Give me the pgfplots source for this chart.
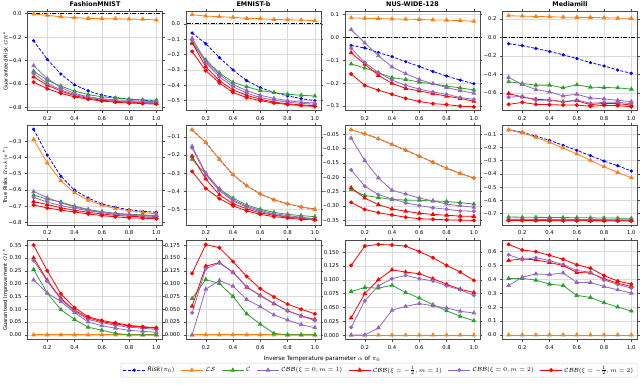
\documentclass[border=0pt]{standalone}
\usepackage{fontspec}
\setmainfont{DejaVu Sans}
\usepackage{pgfplots}
\usepackage{pgfplotstable}
\pgfplotsset{compat=1.18}

\definecolor{mplorange}{RGB}{255,127,14}
\definecolor{mplgreen}{RGB}{44,160,44}
\definecolor{mplpurple}{RGB}{148,103,189}

% guaranteed risk GR*
\pgfplotstableread{
a B LS C P1 R1 P2 R2
0.1 -0.230 -0.003 -0.490 -0.444 -0.540 -0.510 -0.584
0.2 -0.390 -0.014 -0.567 -0.553 -0.610 -0.595 -0.640
0.3 -0.515 -0.026 -0.618 -0.630 -0.660 -0.650 -0.680
0.4 -0.607 -0.034 -0.660 -0.680 -0.700 -0.690 -0.710
0.5 -0.658 -0.040 -0.690 -0.709 -0.722 -0.715 -0.730
0.6 -0.695 -0.043 -0.709 -0.726 -0.738 -0.730 -0.745
0.7 -0.715 -0.043 -0.720 -0.735 -0.748 -0.743 -0.755
0.8 -0.729 -0.046 -0.729 -0.740 -0.755 -0.750 -0.762
0.9 -0.738 -0.047 -0.735 -0.746 -0.760 -0.755 -0.767
1.0 -0.746 -0.054 -0.738 -0.752 -0.765 -0.760 -0.772
}\gra
\pgfplotstableread{
a B LS C P1 R1 P2 R2
0.1 -0.060 0.059 -0.130 -0.095 -0.125 -0.110 -0.180
0.2 -0.130 0.050 -0.235 -0.245 -0.280 -0.255 -0.305
0.3 -0.220 0.046 -0.320 -0.330 -0.370 -0.345 -0.385
0.4 -0.300 0.042 -0.380 -0.395 -0.430 -0.410 -0.447
0.5 -0.370 0.035 -0.410 -0.435 -0.465 -0.450 -0.480
0.6 -0.415 0.033 -0.434 -0.465 -0.490 -0.480 -0.500
0.7 -0.447 0.028 -0.447 -0.485 -0.510 -0.497 -0.515
0.8 -0.469 0.026 -0.458 -0.500 -0.520 -0.510 -0.525
0.9 -0.487 0.024 -0.465 -0.510 -0.528 -0.518 -0.532
1.0 -0.500 0.020 -0.470 -0.515 -0.533 -0.523 -0.538
}\grb
\pgfplotstableread{
a B LS C P1 R1 P2 R2
0.1 -0.035 0.086 -0.116 0.034 -0.067 -0.047 -0.160
0.2 -0.046 0.084 -0.134 -0.024 -0.117 -0.110 -0.210
0.3 -0.066 0.083 -0.154 -0.080 -0.166 -0.154 -0.231
0.4 -0.084 0.081 -0.176 -0.129 -0.201 -0.187 -0.249
0.5 -0.106 0.080 -0.184 -0.159 -0.223 -0.210 -0.267
0.6 -0.127 0.079 -0.196 -0.184 -0.234 -0.226 -0.280
0.7 -0.149 0.077 -0.203 -0.203 -0.246 -0.239 -0.290
0.8 -0.169 0.076 -0.213 -0.219 -0.257 -0.249 -0.294
0.9 -0.187 0.074 -0.221 -0.233 -0.267 -0.263 -0.301
1.0 -0.203 0.071 -0.230 -0.244 -0.279 -0.271 -0.304
}\grc
\pgfplotstableread{
a B LS C P1 R1 P2 R2
0.1 -0.069 0.233 -0.480 -0.433 -0.607 -0.647 -0.724
0.2 -0.090 0.229 -0.498 -0.509 -0.644 -0.636 -0.702
0.3 -0.120 0.225 -0.516 -0.564 -0.669 -0.680 -0.724
0.4 -0.153 0.222 -0.516 -0.589 -0.676 -0.680 -0.727
0.5 -0.189 0.218 -0.545 -0.633 -0.695 -0.695 -0.731
0.6 -0.229 0.215 -0.513 -0.615 -0.684 -0.676 -0.731
0.7 -0.273 0.215 -0.538 -0.655 -0.727 -0.713 -0.745
0.8 -0.309 0.211 -0.542 -0.665 -0.713 -0.702 -0.735
0.9 -0.353 0.207 -0.545 -0.680 -0.716 -0.702 -0.738
1.0 -0.389 0.204 -0.560 -0.695 -0.731 -0.716 -0.749
}\grd

% true risk
\pgfplotstableread{
a B LS C P1 R1 P2 R2
0.1 -0.227 -0.290 -0.632 -0.610 -0.672 -0.646 -0.693
0.2 -0.386 -0.434 -0.657 -0.648 -0.690 -0.675 -0.711
0.3 -0.516 -0.544 -0.675 -0.679 -0.710 -0.697 -0.724
0.4 -0.602 -0.618 -0.700 -0.705 -0.725 -0.713 -0.736
0.5 -0.650 -0.663 -0.720 -0.724 -0.738 -0.728 -0.748
0.6 -0.687 -0.693 -0.734 -0.736 -0.748 -0.740 -0.758
0.7 -0.707 -0.715 -0.744 -0.746 -0.757 -0.750 -0.766
0.8 -0.722 -0.728 -0.750 -0.752 -0.762 -0.756 -0.772
0.9 -0.732 -0.738 -0.754 -0.756 -0.766 -0.760 -0.774
1.0 -0.738 -0.748 -0.758 -0.760 -0.770 -0.764 -0.778
}\tra
\pgfplotstableread{
a B LS C P1 R1 P2 R2
0.1 -0.061 -0.061 -0.224 -0.152 -0.207 -0.161 -0.291
0.2 -0.131 -0.131 -0.306 -0.300 -0.333 -0.309 -0.385
0.3 -0.224 -0.224 -0.387 -0.389 -0.420 -0.398 -0.441
0.4 -0.309 -0.309 -0.439 -0.448 -0.469 -0.454 -0.481
0.5 -0.370 -0.370 -0.476 -0.483 -0.498 -0.489 -0.509
0.6 -0.415 -0.415 -0.500 -0.507 -0.520 -0.513 -0.528
0.7 -0.448 -0.448 -0.517 -0.524 -0.533 -0.529 -0.541
0.8 -0.470 -0.470 -0.528 -0.535 -0.543 -0.541 -0.548
0.9 -0.487 -0.487 -0.535 -0.544 -0.550 -0.548 -0.556
1.0 -0.500 -0.500 -0.541 -0.552 -0.556 -0.556 -0.559
}\trb
\pgfplotstableread{
a B LS C P1 R1 P2 R2
0.1 -0.035 -0.035 -0.244 -0.064 -0.237 -0.175 -0.288
0.2 -0.049 -0.049 -0.264 -0.142 -0.273 -0.232 -0.313
0.3 -0.066 -0.066 -0.271 -0.203 -0.296 -0.261 -0.324
0.4 -0.086 -0.086 -0.278 -0.246 -0.311 -0.276 -0.332
0.5 -0.106 -0.106 -0.280 -0.259 -0.319 -0.290 -0.340
0.6 -0.127 -0.127 -0.281 -0.273 -0.326 -0.299 -0.345
0.7 -0.148 -0.148 -0.283 -0.283 -0.330 -0.307 -0.347
0.8 -0.169 -0.169 -0.285 -0.294 -0.333 -0.312 -0.349
0.9 -0.187 -0.187 -0.289 -0.300 -0.336 -0.318 -0.350
1.0 -0.203 -0.203 -0.294 -0.305 -0.337 -0.319 -0.351
}\trc
\pgfplotstableread{
a B LS C P1 R1 P2 R2
0.1 -0.067 -0.067 -0.726 -0.742 -0.748 -0.745 -0.752
0.2 -0.085 -0.090 -0.727 -0.743 -0.748 -0.746 -0.752
0.3 -0.115 -0.123 -0.728 -0.743 -0.749 -0.746 -0.753
0.4 -0.146 -0.161 -0.729 -0.744 -0.749 -0.747 -0.753
0.5 -0.184 -0.204 -0.730 -0.744 -0.750 -0.747 -0.754
0.6 -0.222 -0.249 -0.731 -0.745 -0.750 -0.748 -0.754
0.7 -0.262 -0.297 -0.732 -0.745 -0.751 -0.748 -0.755
0.8 -0.303 -0.346 -0.733 -0.746 -0.751 -0.749 -0.755
0.9 -0.338 -0.389 -0.734 -0.746 -0.752 -0.749 -0.756
1.0 -0.378 -0.429 -0.736 -0.747 -0.752 -0.750 -0.756
}\trd

% guaranteed improvement GI*
\pgfplotstableread{
a LS C P1 R1 P2 R2
0.1 0 0.255 0.214 0.300 0.290 0.350
0.2 0 0.163 0.163 0.213 0.209 0.250
0.3 0 0.098 0.130 0.142 0.138 0.160
0.4 0 0.060 0.087 0.096 0.092 0.106
0.5 0 0.030 0.050 0.066 0.060 0.071
0.6 0 0.018 0.036 0.052 0.048 0.056
0.7 0 0.006 0.026 0.043 0.037 0.047
0.8 0 0.000 0.018 0.035 0.030 0.037
0.9 0 0.000 0.014 0.030 0.026 0.032
1.0 0 0.000 0.010 0.026 0.021 0.028
}\gia
\pgfplotstableread{
a LS C P1 R1 P2 R2
0.1 0 0.071 0.000 0.056 0.043 0.120
0.2 0 0.108 0.089 0.134 0.129 0.176
0.3 0 0.100 0.106 0.141 0.140 0.170
0.4 0 0.075 0.095 0.122 0.122 0.143
0.5 0 0.041 0.069 0.093 0.094 0.114
0.6 0 0.021 0.055 0.077 0.076 0.090
0.7 0 0.003 0.039 0.061 0.061 0.074
0.8 0 0.000 0.029 0.047 0.047 0.060
0.9 0 0.000 0.020 0.037 0.037 0.050
1.0 0 0.000 0.014 0.030 0.028 0.041
}\gib
\pgfplotstableread{
a LS C P1 R1 P2 R2
0.1 0 0.079 0.000 0.031 0.014 0.126
0.2 0 0.086 0.000 0.075 0.062 0.161
0.3 0 0.085 0.013 0.100 0.089 0.164
0.4 0 0.090 0.045 0.118 0.102 0.163
0.5 0 0.077 0.052 0.114 0.108 0.161
0.6 0 0.067 0.057 0.111 0.102 0.151
0.7 0 0.055 0.053 0.102 0.098 0.140
0.8 0 0.044 0.049 0.092 0.089 0.126
0.9 0 0.034 0.043 0.083 0.082 0.114
1.0 0 0.026 0.040 0.077 0.072 0.099
}\gic
\pgfplotstableread{
a LS C P1 R1 P2 R2
0.1 0 0.407 0.356 0.536 0.577 0.653
0.2 0 0.407 0.416 0.548 0.543 0.612
0.3 0 0.395 0.440 0.541 0.557 0.600
0.4 0 0.366 0.435 0.522 0.536 0.574
0.5 0 0.356 0.447 0.500 0.507 0.545
0.6 0 0.285 0.378 0.450 0.464 0.505
0.7 0 0.270 0.378 0.447 0.452 0.481
0.8 0 0.232 0.349 0.404 0.395 0.428
0.9 0 0.201 0.325 0.373 0.364 0.388
1.0 0 0.172 0.301 0.349 0.337 0.366
}\gid

\newcommand{\mtick}{\ifdim\tick pt<-0.0001pt\char"2212\fi\pgfmathparse{abs(\tick)}\pgfmathprintnumber{\pgfmathresult}}

\pgfplotsset{
  sB/.style={blue, line width=0.8pt, dash pattern=on 3pt off 1.6pt, mark=*, mark size=1.2pt, mark options={solid}},
  sLS/.style={mplorange, line width=0.8pt, mark=triangle*, mark size=2pt},
  sC/.style={mplgreen, line width=0.8pt, mark=triangle*, mark size=2pt},
  sP1/.style={mplpurple, line width=0.8pt, mark=triangle*, mark size=2pt},
  sR1/.style={red, line width=0.8pt, mark=triangle*, mark size=2pt},
  sP2/.style={mplpurple, line width=0.8pt, mark=*, mark size=1.6pt},
  sR2/.style={red, line width=0.8pt, mark=*, mark size=1.6pt},
  panel/.style={
    scale only axis, width=135pt, height=99.5pt, anchor=north west,
    xmin=0.055, xmax=1.045, xtick={0.2,0.4,0.6,0.8,1.0},
    grid=major, grid style={black!14, line width=0.5pt},
    axis line style={black!70, line width=0.6pt},
    tick align=outside, major tick length=2.5pt,
    tick style={black!70, line width=0.5pt},
    /pgf/number format/assume math mode=true,
    ticklabel style={font=\fontsize{5.3}{6}\selectfont},
    xticklabel style={/pgf/number format/.cd, fixed, fixed zerofill, precision=1},
    yticklabel={\mtick},
    title style={font=\bfseries\fontsize{6.4}{7}\selectfont, yshift=-5.5pt},
    ylabel style={font=\fontsize{5.2}{6}\selectfont, at={(axis description cs:-0.163,0.5)}, anchor=center},
  },
  prec/.style={yticklabel style={/pgf/number format/.cd, fixed, fixed zerofill, precision=#1}},
}

\newcommand{\plotall}[1]{%
  \addplot[sB] table[x=a,y=B]{#1};
  \addplot[sLS] table[x=a,y=LS]{#1};
  \addplot[sC] table[x=a,y=C]{#1};
  \addplot[sP1] table[x=a,y=P1]{#1};
  \addplot[sR1] table[x=a,y=R1]{#1};
  \addplot[sP2] table[x=a,y=P2]{#1};
  \addplot[sR2] table[x=a,y=R2]{#1};
}
\newcommand{\plotgi}[1]{%
  \addplot[sLS, forget plot] table[x=a,y=LS]{#1};
  \addplot[sC, forget plot] table[x=a,y=C]{#1};
  \addplot[sP1, forget plot] table[x=a,y=P1]{#1};
  \addplot[sR1, forget plot] table[x=a,y=R1]{#1};
  \addplot[sP2, forget plot] table[x=a,y=P2]{#1};
  \addplot[sR2, forget plot] table[x=a,y=R2]{#1};
}
\newcommand{\zeroline}{\addplot[black, line width=0.8pt, dash pattern=on 4pt off 1.5pt on 1pt off 1.5pt, forget plot] coordinates {(0,0) (1.1,0)};}

\begin{document}
\begin{tikzpicture}
\path[use as bounding box] (0,0) rectangle (640pt,384pt);

% row 1
\begin{axis}[panel, prec=1, at={(27.5pt,373pt)}, title={FashionMNIST},
  ylabel={Guaranteed Risk $GR^*$}, ymin=-0.826, ymax=0.023, ytick={-0.8,-0.6,-0.4,-0.2,0}]
\zeroline
\plotall{\gra}
\end{axis}
\begin{axis}[panel, prec=1, at={(186pt,373pt)}, title={EMNIST-b},
  ymin=-0.564, ymax=0.083, ytick={-0.5,-0.4,-0.3,-0.2,-0.1,0}]
\zeroline
\plotall{\grb}
\end{axis}
\begin{axis}[panel, prec=1, at={(345pt,373pt)}, title={NUS-WIDE-128},
  ymin=-0.32, ymax=0.116, ytick={-0.3,-0.2,-0.1,0,0.1}]
\zeroline
\plotall{\grc}
\end{axis}
\begin{axis}[panel, prec=1, at={(502.5pt,373pt)}, title={Mediamill},
  ymin=-0.79, ymax=0.284, ytick={-0.6,-0.4,-0.2,0,0.2}]
\zeroline
\plotall{\grd}
\end{axis}

% row 2
\begin{axis}[panel, prec=1, at={(27.5pt,258.5pt)},
  ylabel={True Risks $Risk(\pi^*)$}, ymin=-0.816, ymax=-0.204, ytick={-0.8,-0.7,-0.6,-0.5,-0.4,-0.3}]
\plotall{\tra}
\end{axis}
\begin{axis}[panel, prec=1, at={(186pt,258.5pt)},
  ymin=-0.587, ymax=-0.037, ytick={-0.5,-0.4,-0.3,-0.2,-0.1}]
\plotall{\trb}
\end{axis}
\begin{axis}[panel, prec=2, at={(345pt,258.5pt)},
  ymin=-0.367, ymax=-0.02, ytick={-0.35,-0.3,-0.25,-0.2,-0.15,-0.1,-0.05}]
\plotall{\trc}
\end{axis}
\begin{axis}[panel, prec=1, at={(502.5pt,258.5pt)},
  ymin=-0.786, ymax=-0.034, ytick={-0.7,-0.6,-0.5,-0.4,-0.3,-0.2,-0.1}]
\plotall{\trd}
\end{axis}

% row 3
\begin{axis}[panel, prec=2, at={(27.5pt,144pt)},
  ylabel={Guaranteed Improvement $GI^*$}, ymin=-0.018, ymax=0.37, ytick={0,0.05,0.1,0.15,0.2,0.25,0.3,0.35}]
\plotgi{\gia}
\end{axis}
\begin{axis}[panel, prec=3, at={(186pt,144pt)},
  ymin=-0.009, ymax=0.185, ytick={0,0.025,0.05,0.075,0.1,0.125,0.15,0.175}]
\plotgi{\gib}
\end{axis}
\begin{axis}[panel, prec=3, at={(345pt,144pt)},
  ymin=-0.008, ymax=0.172, ytick={0,0.025,0.05,0.075,0.1,0.125,0.15}]
\plotgi{\gic}
\end{axis}
\begin{axis}[panel, prec=1, at={(502.5pt,144pt)},
  ymin=-0.033, ymax=0.684, ytick={0,0.1,0.2,0.3,0.4,0.5,0.6},
  legend style={at={(1,-0.235)}, anchor=north east, legend columns=7,
    draw=black!20, rounded corners=2pt, font=\fontsize{6.2}{7}\selectfont,
    inner xsep=2pt, inner ysep=1.5pt,
    /tikz/every even column/.append style={column sep=4pt}},
  legend image code/.code={\draw[mark repeat=2,mark phase=2] plot coordinates {(0pt,0pt) (11pt,0pt) (22pt,0pt)};}]
\addlegendimage{sB}\addlegendentry{$\mathit{Risk}(\pi_0)$}
\addlegendimage{sLS}\addlegendentry{$\mathcal{LS}$}
\addlegendimage{sC}\addlegendentry{$\mathcal{C}$}
\addlegendimage{sP1}\addlegendentry{$\mathcal{CBB}(\xi=0,m=1)$}
\addlegendimage{sR1}\addlegendentry{$\mathcal{CBB}(\xi=-\frac{1}{2},m=1)$}
\addlegendimage{sP2}\addlegendentry{$\mathcal{CBB}(\xi=0,m=2)$}
\addlegendimage{sR2}\addlegendentry{$\mathcal{CBB}(\xi=-\frac{1}{2},m=2)$}
\plotgi{\gid}
\end{axis}

\node[font=\fontsize{5.8}{6}\selectfont] at (322pt,25pt) {Inverse Temperature parameter $\alpha$ of $\pi_0$};
\end{tikzpicture}
\end{document}
